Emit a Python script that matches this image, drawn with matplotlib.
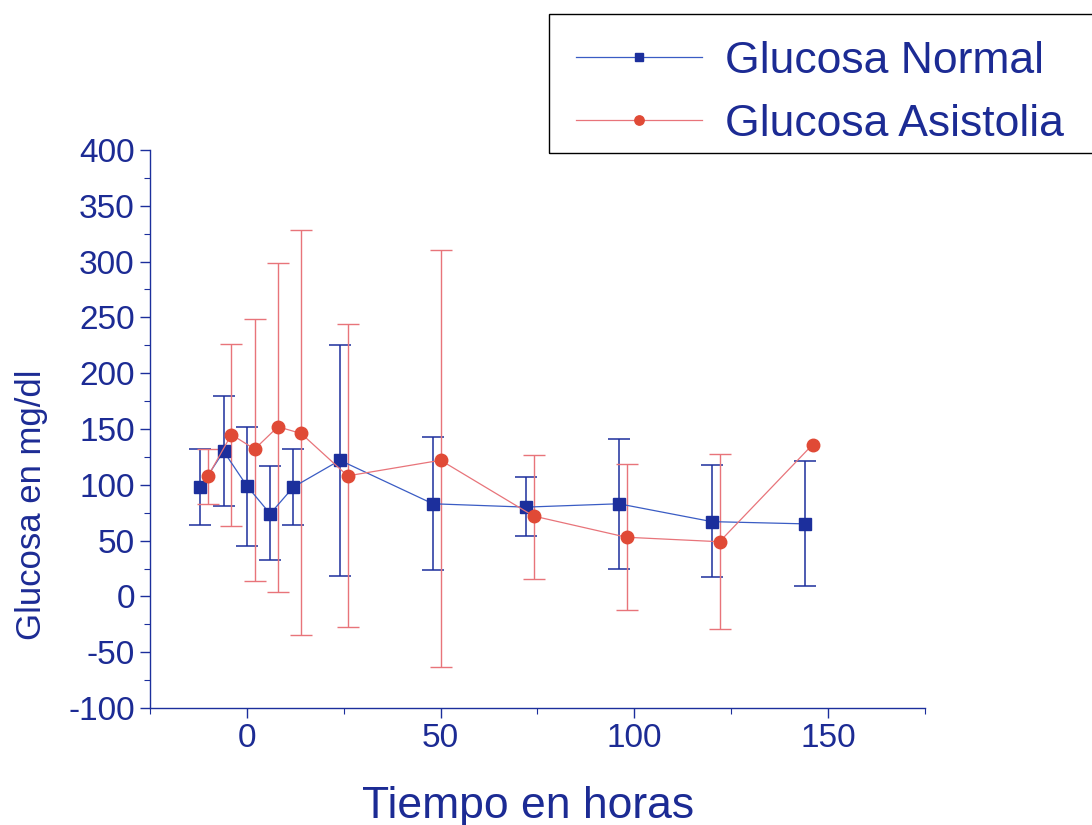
import matplotlib.pyplot as plt
from matplotlib.patches import Rectangle
from matplotlib.ticker import MultipleLocator

# Glucose over time, normal group vs. asystole group (mean with error range)
horas_normal = [-12, -6, 0, 6, 12, 24, 48, 72, 96, 120, 144]
glucosa_normal = [98, 130, 99, 74, 98, 122, 83, 80, 83, 67, 65]
normal_sup = [132, 180, 152, 117, 132, 225, 143, 107, 141, 118, 121]
normal_inf = [64, 81, 45, 33, 64, 18, 24, 54, 25, 17, 9]

horas_asistolia = [-10, -4, 2, 8, 14, 26, 50, 74, 98, 122, 146]
glucosa_asistolia = [108, 145, 132, 152, 146, 108, 122, 72, 53, 49, 136]
# last point has no range
asistolia_sup = [132, 226, 249, 299, 328, 244, 310, 127, 119, 128, float("nan")]
asistolia_inf = [83, 63, 14, 4, -35, -27, -63, 16, -12, -29, float("nan")]

AZUL = "#1c2f9c"
AZUL_LINEA = "#3a5cc4"
ROJO = "#e04a36"
ROJO_LINEA = "#e8747a"
TEXTO = "#1c2b94"

plt.rcParams["font.family"] = ["Liberation Sans", "DejaVu Sans"]
plt.rcParams["axes.unicode_minus"] = False

fig = plt.figure(figsize=(10.92, 8.25), dpi=100)
ax = fig.add_axes([0.1374, 0.1418, 0.7096, 0.6764])

err_normal = [
    [g - lo for g, lo in zip(glucosa_normal, normal_inf)],
    [hi - g for g, hi in zip(glucosa_normal, normal_sup)],
]
err_asistolia = [
    [g - lo for g, lo in zip(glucosa_asistolia, asistolia_inf)],
    [hi - g for g, hi in zip(glucosa_asistolia, asistolia_sup)],
]

ax.errorbar(horas_normal, glucosa_normal, yerr=err_normal, fmt="none",
            ecolor=AZUL, elinewidth=1.1, capsize=8, capthick=1.1, zorder=2)
ax.errorbar(horas_asistolia, glucosa_asistolia, yerr=err_asistolia, fmt="none",
            ecolor=ROJO_LINEA, elinewidth=1.0, capsize=8, capthick=1.0, zorder=2)

ax.plot(horas_normal, glucosa_normal, color=AZUL_LINEA, lw=0.9, marker="s",
        markersize=8, markerfacecolor=AZUL, markeredgecolor=AZUL,
        label="Glucosa Normal", zorder=3)
ax.plot(horas_asistolia, glucosa_asistolia, color=ROJO_LINEA, lw=0.9, marker="o",
        markersize=9, markerfacecolor=ROJO, markeredgecolor=ROJO,
        label="Glucosa Asistolia", zorder=3)

ax.set_xlim(-25, 175)
ax.set_ylim(-100, 400)
ax.xaxis.set_major_locator(MultipleLocator(50))
ax.xaxis.set_minor_locator(MultipleLocator(25))
ax.yaxis.set_major_locator(MultipleLocator(50))
ax.yaxis.set_minor_locator(MultipleLocator(25))

for side in ["top", "right"]:
    ax.spines[side].set_visible(False)
for side in ["left", "bottom"]:
    ax.spines[side].set_color(AZUL)
    ax.spines[side].set_linewidth(1.0)

ax.tick_params(which="major", direction="out", length=7, width=1.0,
               colors=AZUL, labelcolor=TEXTO, labelsize=24, pad=4)
ax.tick_params(which="minor", direction="out", length=4, width=0.8, colors=AZUL)

ax.set_xlabel("Tiempo en horas", fontsize=32, color=TEXTO)
ax.set_ylabel("Glucosa en mg/dl", fontsize=25, color=TEXTO)
ax.xaxis.set_label_coords(0.488, -0.14)
ax.yaxis.set_label_coords(-0.132, 0.364)

# legend entries without frame, the box is drawn as a separate rectangle
leg = fig.legend(loc="upper left", bbox_to_anchor=(549 / 1092, 1 - 14 / 825),
                 fontsize=32, frameon=False, handlelength=2.85, markerscale=0.75,
                 handletextpad=0.5, labelspacing=0.5, borderpad=0.6,
                 borderaxespad=0)
for t in leg.get_texts():
    t.set_color(TEXTO)

fig.patches.append(Rectangle((549 / 1092, 1 - 153 / 825), 0.51, 139 / 825,
                             transform=fig.transFigure, fill=False,
                             edgecolor="black", linewidth=1.0))

fig.savefig("out.png", dpi=100)
